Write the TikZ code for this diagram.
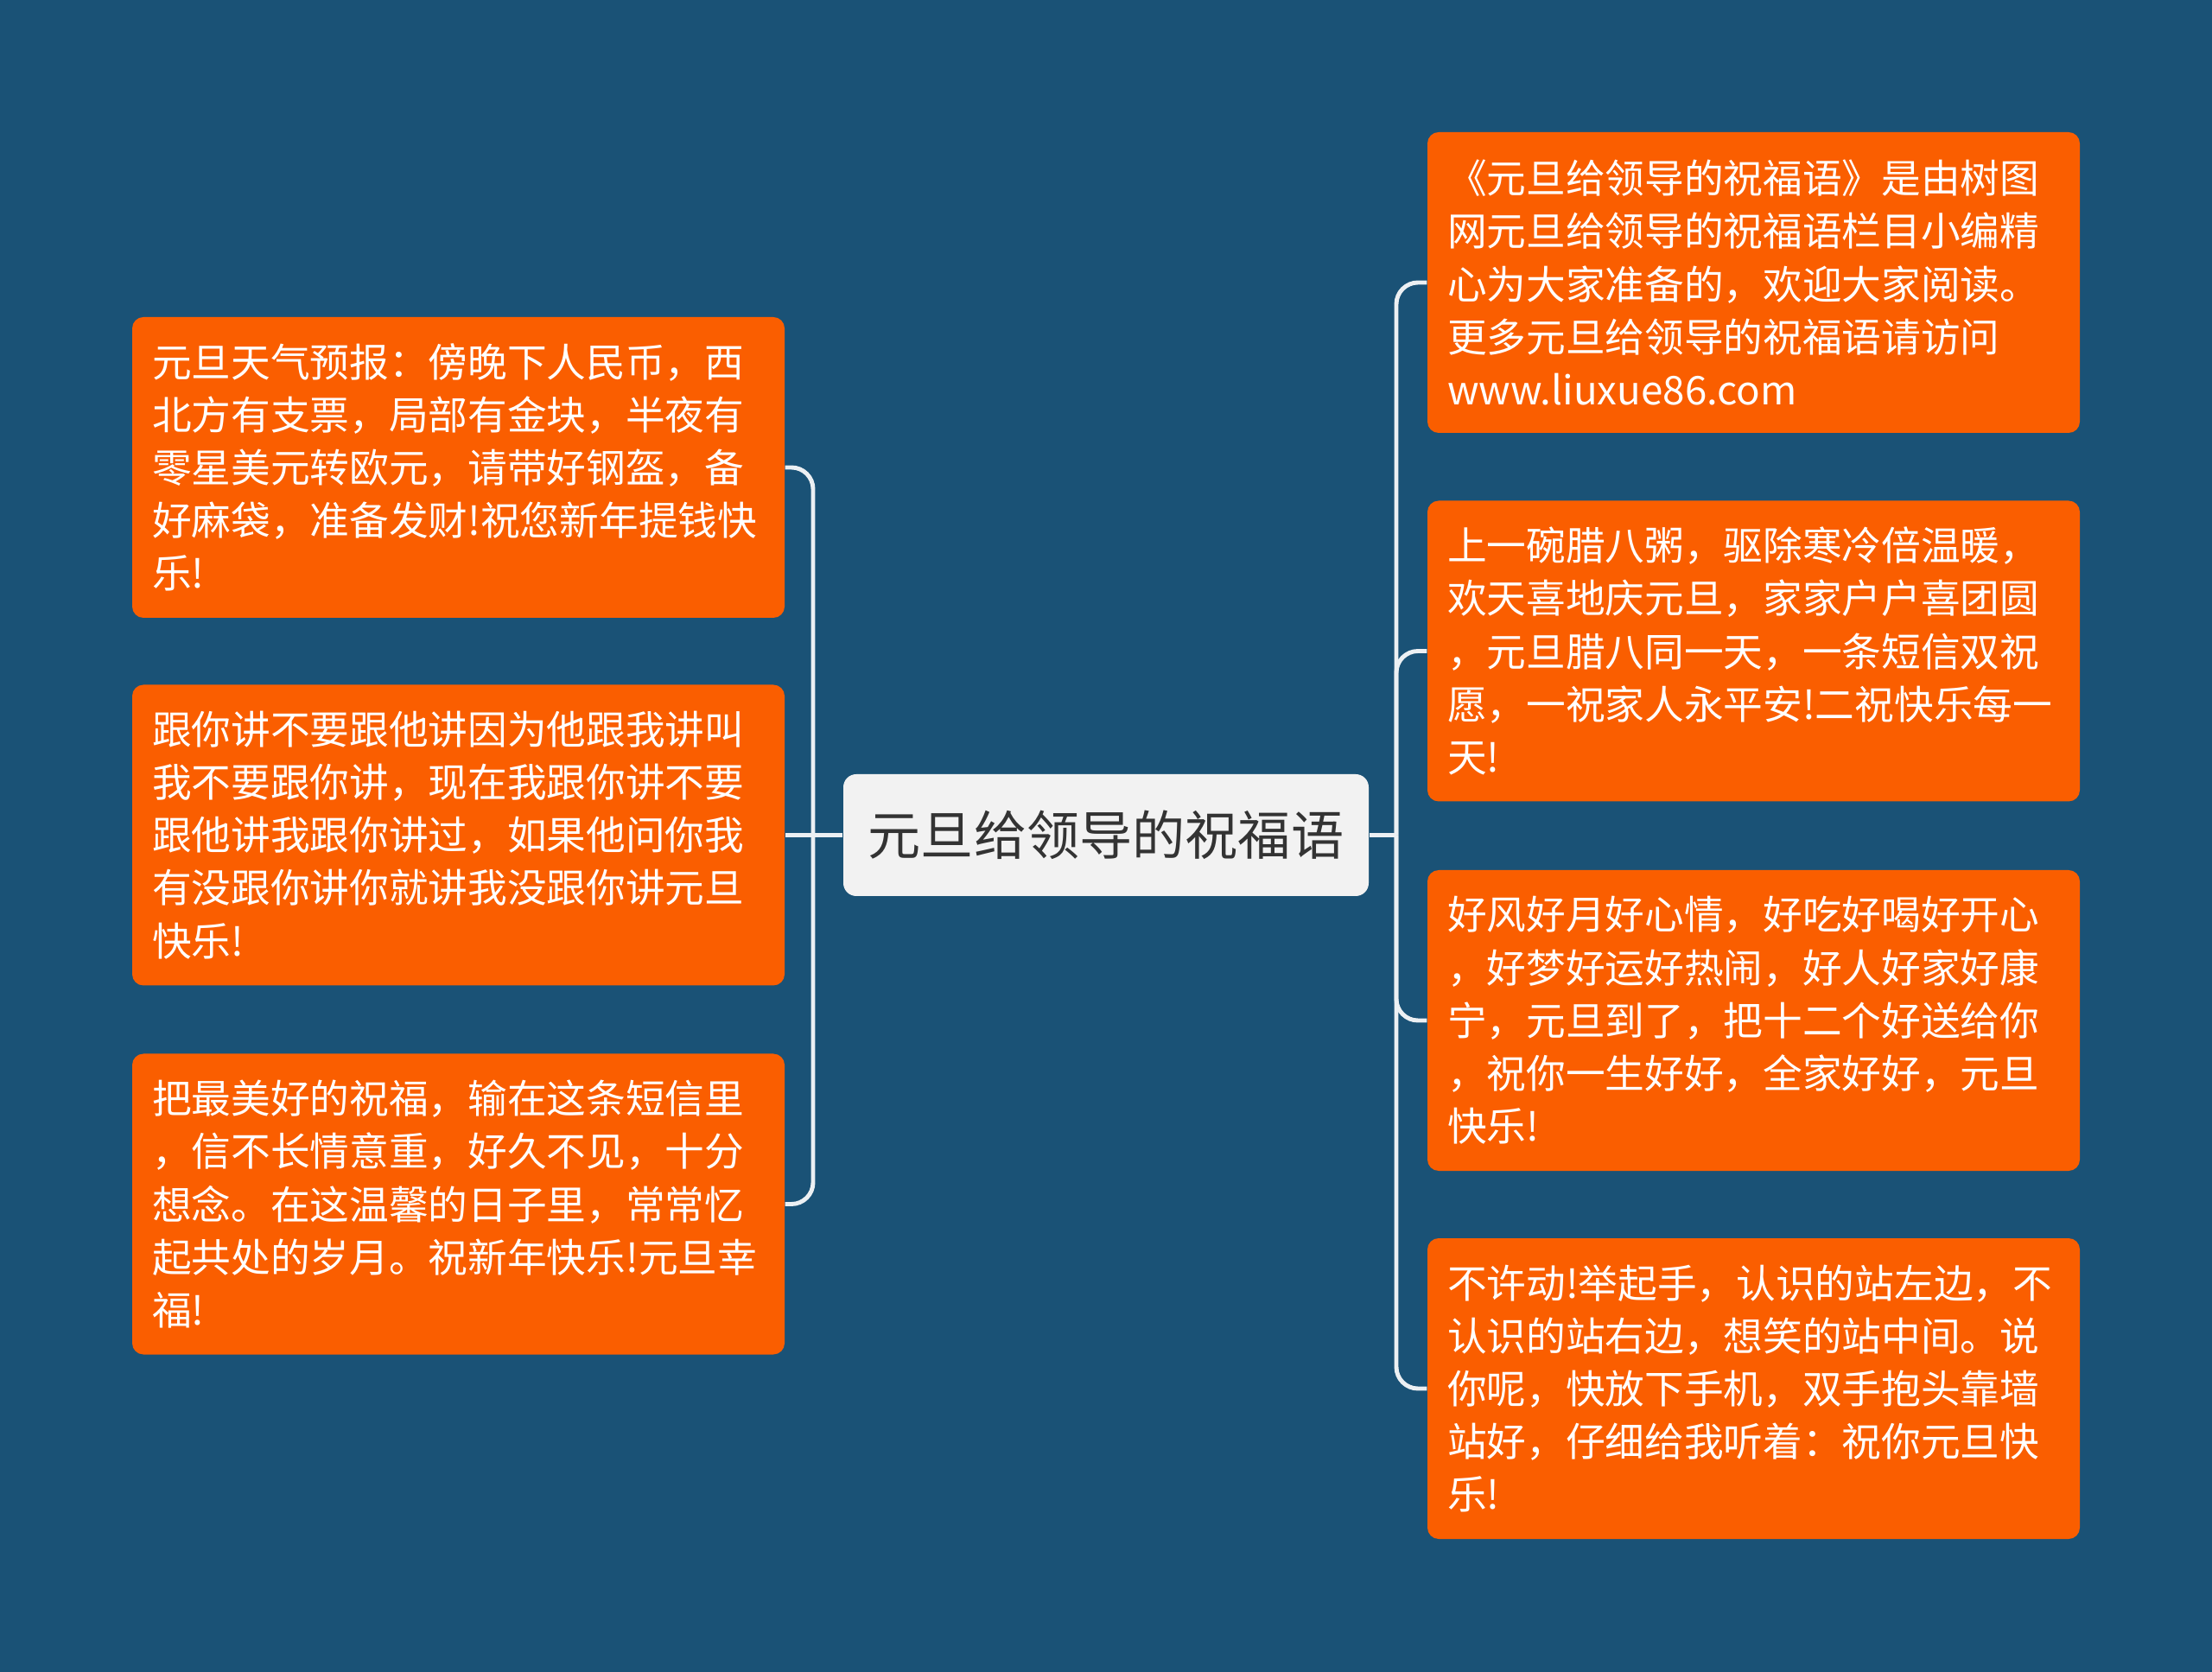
\documentclass[tikz,border=0pt]{standalone}
\usepackage{fontspec}
\setmainfont{Noto Sans CJK SC}
\definecolor{bgblue}{RGB}{26,82,118}
\definecolor{tipfill}{RGB}{250,94,0}
\definecolor{rootfill}{RGB}{242,242,242}
\definecolor{roottext}{RGB}{51,51,51}
\definecolor{linegray}{RGB}{236,240,243}
\begin{document}
\begin{tikzpicture}[
		tip/.style={fill=tipfill, rounded corners=0.13cm, text=white, align=left,
			text width=7.09cm, minimum height=3.48cm, inner xsep=0.23cm,
			font=\fontsize{13pt}{17.4pt}\selectfont},
		rootbox/.style={fill=rootfill, rounded corners=0.15cm, text=roottext,
			minimum width=6.08cm, minimum height=1.41cm,
			font=\fontsize{17.4pt}{20pt}\selectfont},
		branch/.style={draw=linegray, line width=1.4pt, rounded corners=0.25cm}]
	\fill[bgblue] (0,0) rectangle (25.6,-19.35);
	
	\node[rootbox] (root) at (12.80,-9.665) {元旦给领导的祝福语};
	
	\node[tip] (l1) at (5.305,-5.41) {元旦天气预报：傍晚下人民币，西\\北方有支票，局部有金块，半夜有\\零星美元转欧元，请带好钢盔，备\\好麻袋，准备发财!祝您新年提钱快\\乐!};
	\node[tip] (l2) at (5.305,-9.665) {跟你讲不要跟他讲因为他跟我讲叫\\我不要跟你讲，现在我跟你讲不要\\跟他讲我跟你讲过，如果他问你我\\有没跟你讲你就讲我没跟你讲元旦\\快乐!};
	\node[tip] (l3) at (5.305,-13.935) {把最美好的祝福，输在这条短信里\\，信不长情意重，好久不见，十分\\想念。在这温馨的日子里，常常忆\\起共处的岁月。祝新年快乐!元旦幸\\福!};
	
	\node[tip] (r1) at (20.295,-3.27) {《元旦给领导的祝福语》是由树图\\网元旦给领导的祝福语栏目小编精\\心为大家准备的，欢迎大家阅读。\\更多元旦给领导的祝福语请访问\\www.liuxue86.com};
	\node[tip] (r2) at (20.295,-7.535) {上一碗腊八粥，驱除寒冷倍温暖，\\欢天喜地庆元旦，家家户户喜团圆\\，元旦腊八同一天，一条短信双祝\\愿，一祝家人永平安!二祝快乐每一\\天!};
	\node[tip] (r3) at (20.295,-11.81) {好风好月好心情，好吃好喝好开心\\，好梦好运好热闹，好人好家好康\\宁，元旦到了，把十二个好送给你\\，祝你一生好好，全家好好，元旦\\快乐!};
	\node[tip] (r4) at (20.295,-16.07) {不许动!举起手，认识的站左边，不\\认识的站右边，想笑的站中间。说\\你呢，快放下手机，双手抱头靠墙\\站好，仔细给我听着：祝你元旦快\\乐!};
	
	\coordinate (ltrunk) at (9.41,-9.665);
	\coordinate (rtrunk) at (16.16,-9.665);
	
	\draw[branch] (root.west) -- (l2.east);
	\draw[branch] (ltrunk) |- (l1.east);
	\draw[branch] (ltrunk) |- (l3.east);
	
	\draw[branch] (root.east) -- (rtrunk);
	\draw[branch] (rtrunk) |- (r1.west);
	\draw[branch] (rtrunk) |- (r2.west);
	\draw[branch] (rtrunk) |- (r3.west);
	\draw[branch] (rtrunk) |- (r4.west);
\end{tikzpicture}
\end{document}
